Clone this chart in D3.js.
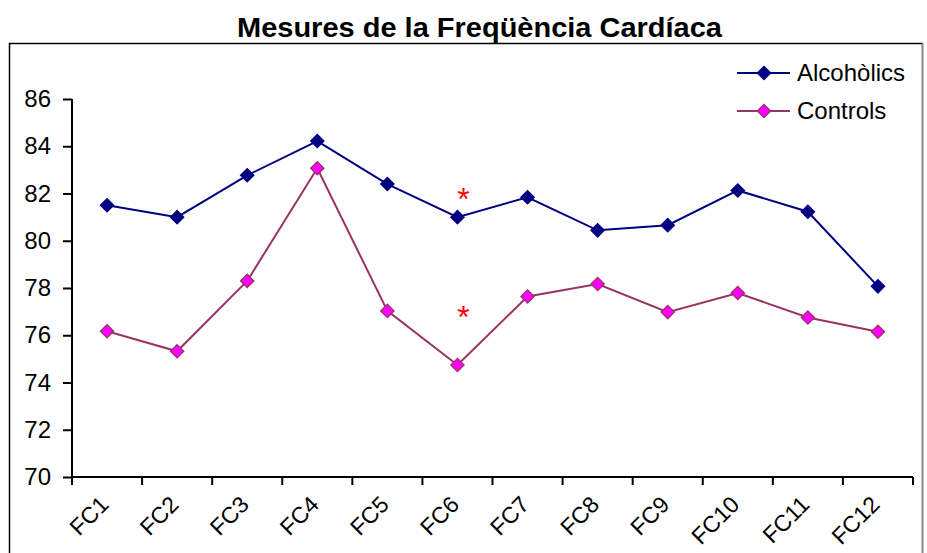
<!DOCTYPE html>
<html>
<head>
<meta charset="utf-8">
<script src="https://cdn.jsdelivr.net/npm/d3@7"></script>
<style>
  html, body { margin: 0; padding: 0; background: #fff; }
  svg text { font-family: "Liberation Sans", Arial, sans-serif; }
</style>
</head>
<body>
<svg id="chart" width="927" height="553"></svg>
<script>
const categories = ["FC1","FC2","FC3","FC4","FC5","FC6","FC7","FC8","FC9","FC10","FC11","FC12"];
const alcoholics = [81.5, 81.0, 82.77, 84.22, 82.4, 81.0, 81.84, 80.44, 80.66, 82.13, 81.23, 78.07];
const controls   = [76.17, 75.32, 78.3, 83.07, 77.03, 74.74, 77.64, 78.17, 76.98, 77.79, 76.75, 76.15];
const yTicks = [70, 72, 74, 76, 78, 80, 82, 84, 86];
const seriesNames = ["Alcohòlics", "Controls"];
const significance = [{cat: "FC6", value: 82.1}, {cat: "FC6", value: 77.1}];
const title = "Mesures de la Freqüència Cardíaca";

const svg = d3.select("#chart");

// outer chart area border
svg.append("rect").attr("x", 9.5).attr("y", 43.5).attr("width", 913).attr("height", 520)
  .attr("fill", "none").attr("stroke", "#000").attr("stroke-width", 1.5);
svg.append("line").attr("x1", 922.5).attr("x2", 922.5).attr("y1", 43).attr("y2", 553)
  .attr("stroke", "#888").attr("stroke-width", 1);

svg.append("text").attr("x", 237).attr("y", 37)
  .attr("font-size", 27).attr("font-weight", "bold")
  .attr("textLength", 485).attr("lengthAdjust", "spacingAndGlyphs").text(title);

const x = d3.scaleBand().domain(categories).range([72, 913]).padding(0);
const y = d3.scaleLinear().domain([70, 86]).range([477, 99]);

// y axis
const yAxis = svg.append("g").attr("transform", "translate(72,0)")
  .call(d3.axisLeft(y).tickValues(yTicks).tickSize(9).tickPadding(12).tickFormat(d3.format("d")));
yAxis.select(".domain").attr("stroke-width", 2).attr("d", `M0,${y(86)}V${y(70)}`);
yAxis.selectAll(".tick line").attr("stroke-width", 2);
yAxis.selectAll("text").attr("font-size", 24).attr("fill", "#000")
  .attr("font-family", "Liberation Sans, Arial, sans-serif");

// x axis
const xAxis = svg.append("g").attr("transform", `translate(0,${y(70)})`)
  .call(d3.axisBottom(x).tickSize(0).tickPadding(0));
xAxis.select(".domain").attr("stroke-width", 2).attr("d", `M72,0H913`);
xAxis.selectAll(".tick text")
  .attr("font-size", 23).attr("fill", "#000")
  .attr("font-family", "Liberation Sans, Arial, sans-serif")
  .attr("text-anchor", "end").attr("dy", null).attr("y", 0)
  .attr("transform", "translate(3,29) rotate(-45)");
// boundary ticks between categories
const bounds = categories.map(c => x(c)).concat([x(categories[categories.length - 1]) + x.bandwidth()]);
svg.append("g").selectAll("line").data(bounds).join("line")
  .attr("x1", d => d).attr("x2", d => d).attr("y1", y(70)).attr("y2", y(70) + 8)
  .attr("stroke", "#000").attr("stroke-width", 2);

const cx = c => x(c) + x.bandwidth() / 2;
const line = d3.line().x((d, i) => cx(categories[i])).y(d => y(d));
const diamond = d3.symbol().type(d3.symbolSquare).size(88);

const styles = [
  {data: alcoholics, stroke: "#000080", fill: "#000080"},
  {data: controls, stroke: "#993366", fill: "#FF00FF"}
];

styles.forEach(s => {
  svg.append("path").datum(s.data).attr("d", line)
    .attr("fill", "none").attr("stroke", s.stroke).attr("stroke-width", 2);
  svg.append("g").selectAll("path").data(s.data).join("path")
    .attr("transform", (d, i) => `translate(${cx(categories[i])},${y(d)}) rotate(45)`)
    .attr("d", diamond)
    .attr("fill", s.fill).attr("stroke", s.stroke).attr("stroke-width", 1.3);
});

// significance asterisks
svg.append("g").selectAll("text").data(significance).join("text")
  .attr("x", d => cx(d.cat) + 6).attr("y", d => y(d.value) + 19)
  .attr("text-anchor", "middle").attr("font-size", 32)
  .attr("fill", "#FF0000").text("*");

// legend
const legend = svg.append("g");
styles.forEach((s, i) => {
  const ly = 73 + i * 38;
  legend.append("line").attr("x1", 737).attr("x2", 790).attr("y1", ly).attr("y2", ly)
    .attr("stroke", s.stroke).attr("stroke-width", 2);
  legend.append("path").attr("transform", `translate(764,${ly}) rotate(45)`).attr("d", diamond)
    .attr("fill", s.fill).attr("stroke", s.stroke).attr("stroke-width", 1.3);
  legend.append("text").attr("x", 797).attr("y", ly + 8).attr("font-size", 24)
    .attr("fill", "#000").text(seriesNames[i]);
});
</script>
</body>
</html>
